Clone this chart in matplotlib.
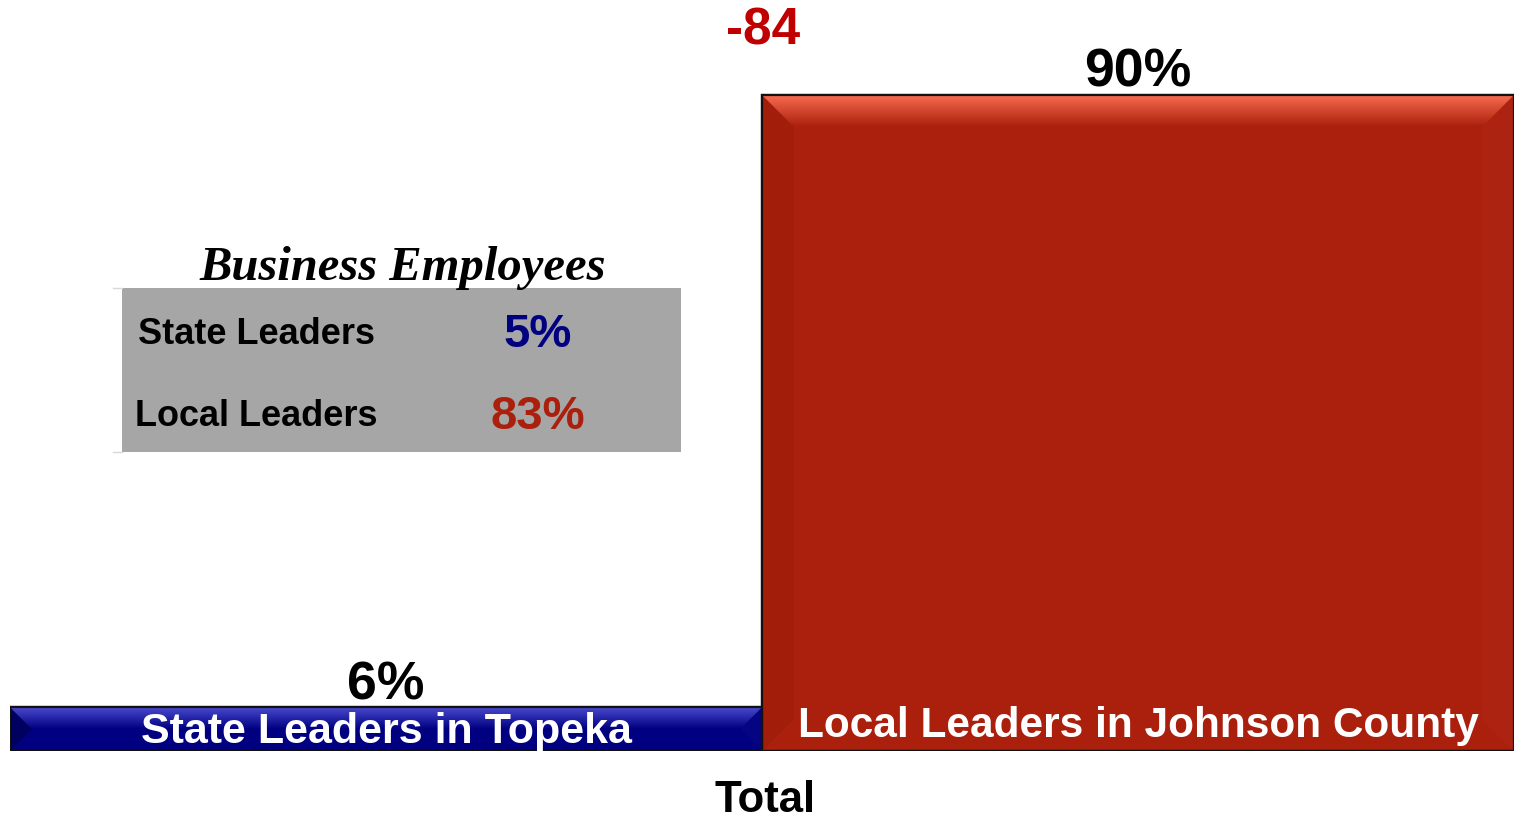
import matplotlib
matplotlib.use("Agg")
import matplotlib.pyplot as plt
import numpy as np
from matplotlib.patches import Polygon, Rectangle
from matplotlib.colors import to_rgb

# --- data -------------------------------------------------------------------
categories = ["State Leaders in Topeka", "Local Leaders in Johnson County"]
values = [6, 90]
value_labels = ["6%", "90%"]
difference_label = "-84"
x_label = "Total"

inset_title = "Business Employees"
inset_rows = ["State Leaders", "Local Leaders"]
inset_values = ["5%", "83%"]

BLUE = "#000080"
BLUE_LIGHT = "#4a4ad0"
RED = "#aa200c"
RED_LIGHT = "#f86a50"

plt.rcParams["font.family"] = ["Liberation Sans", "DejaVu Sans"]

W, H = 1514, 819
fig = plt.figure(figsize=(W / 100, H / 100), dpi=100)
ax = fig.add_axes([10 / W, 1 - 751 / H, 1 - 10 / W, 751 / H])
ax.set_xlim(-0.5, 1.5)
ax.set_ylim(0, 90 * 751 / 656)
ax.axis("off")

colors = [BLUE, RED]
lights = [BLUE_LIGHT, RED_LIGHT]
side_dark = [0.25, 0.05]
bars = ax.bar(range(len(values)), values, width=1.0, color=colors,
              edgecolor="#111111", linewidth=1.6, zorder=2)


def mix(c1, c2, t):
    a, b = np.array(to_rgb(c1)), np.array(to_rgb(c2))
    return tuple(a * (1 - t) + b * t)


# bevel look: lighter top band fading down, darker left edge
px_x = 2.0 / (W - 10)
px_y = ax.get_ylim()[1] / 751
for bar, base, light, sd in zip(bars, colors, lights, side_dark):
    x0, y0 = bar.get_x(), bar.get_y()
    w, h = bar.get_width(), bar.get_height()
    hpx = h / px_y
    bev = min(32, hpx / 2)
    bx, by = bev * px_x, bev * px_y
    x1, y1 = x0 + w, y0 + h
    ax.add_patch(Polygon([(x0, y0), (x0, y1), (x0 + bx, y1 - by), (x0 + bx, y0 + by)],
                         closed=True, facecolor=mix(base, "black", sd),
                         edgecolor="none", zorder=3))
    ax.add_patch(Polygon([(x1, y0), (x1, y1), (x1 - bx, y1 - by), (x1 - bx, y0 + by)],
                         closed=True, facecolor=mix(base, "white", 0.02),
                         edgecolor="none", zorder=3))
    n = 40
    grad = np.array([mix(light, base, t) for t in np.linspace(0, 1, n)])[:, None, :]
    top = Polygon([(x0, y1), (x1, y1), (x1 - bx, y1 - by), (x0 + bx, y1 - by)],
                  closed=True, facecolor="none", edgecolor="none")
    ax.add_patch(top)
    im = ax.imshow(grad, extent=(x0, x1, y1 - by, y1), aspect="auto",
                   origin="upper", zorder=3, interpolation="bilinear")
    im.set_clip_path(top)
    ax.add_patch(Rectangle((x0, y0), w, h, facecolor="none",
                           edgecolor="#111111", linewidth=1.6, zorder=4))

# value labels above bars
for bar, lab in zip(bars, value_labels):
    ax.annotate(lab, (bar.get_x() + bar.get_width() / 2, bar.get_height()),
                xytext=(0, 16), textcoords="offset points",
                ha="center", va="center", fontsize=38.5, fontweight="bold",
                color="black", zorder=5)

# category labels inside bars
ax.text(bars[0].get_x() + bars[0].get_width() / 2, values[0] / 2 - 0.4,
        categories[0], ha="center", va="center", fontsize=31,
        fontweight="bold", color="white", zorder=5)
ax.text(bars[1].get_x() + bars[1].get_width() / 2, 3.4,
        categories[1], ha="center", va="center", fontsize=30.5,
        fontweight="bold", color="white", zorder=5)

# difference label
fig.text(763 / W, 1 - 31 / H, difference_label, ha="center", va="center",
         fontsize=37, fontweight="bold", color="#c00000")

# x label
fig.text(765 / W, 1 - 800 / H, x_label, ha="center", va="center",
         fontsize=31.5, fontweight="bold", color="black")

# inset box
fig.patches.append(Rectangle((122 / W, 1 - 452 / H), (681 - 122) / W, (452 - 288) / H,
                             transform=fig.transFigure, facecolor="#a6a6a6",
                             edgecolor="none", zorder=1))
for yy in (288, 452):
    fig.add_artist(plt.Line2D([113 / W, 122 / W], [1 - yy / H, 1 - yy / H],
                              color="#d9d9d9", linewidth=1))
fig.text(403 / W, 1 - 268 / H, inset_title, ha="center", va="center",
         fontsize=35, fontweight="bold", style="italic",
         family=["Liberation Serif", "DejaVu Serif"])
row_y = [334, 416]
row_x = [138, 135]
val_colors = [BLUE, RED]
for lab, val, yy, xx, vc in zip(inset_rows, inset_values, row_y, row_x, val_colors):
    fig.text(xx / W, 1 - yy / H, lab, ha="left", va="center",
             fontsize=26, fontweight="bold", color="black")
    fig.text(538 / W, 1 - (yy + 1) / H, val, ha="center", va="center",
             fontsize=34, fontweight="bold", color=vc)

fig.savefig("out.png", dpi=100)
